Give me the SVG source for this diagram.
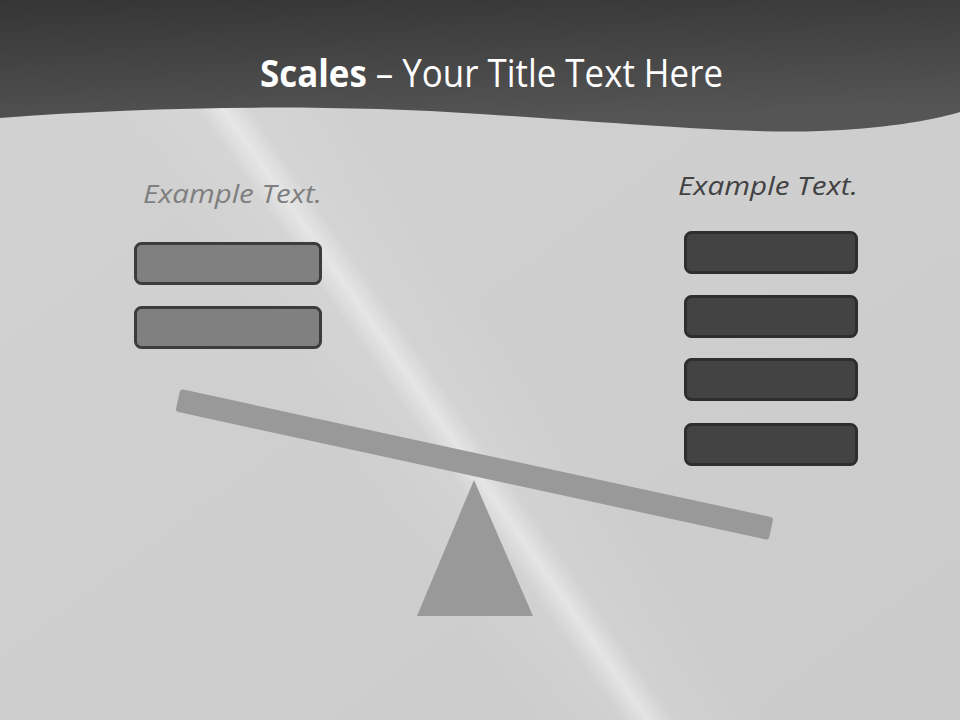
<svg xmlns="http://www.w3.org/2000/svg" width="960" height="720" viewBox="0 0 960 720">
  <defs>
    <linearGradient id="hdr" x1="0" y1="0" x2="0.25" y2="1">
      <stop offset="0" stop-color="#353535"/>
      <stop offset="1" stop-color="#555555"/>
    </linearGradient>
    <linearGradient id="bg" x1="0" y1="0" x2="1" y2="1">
      <stop offset="0" stop-color="#d2d2d2"/>
      <stop offset="1" stop-color="#cbcbcb"/>
    </linearGradient>
    <linearGradient id="streak" x1="0" y1="0" x2="1" y2="0">
      <stop offset="0" stop-color="#ffffff" stop-opacity="0"/>
      <stop offset="0.5" stop-color="#ffffff" stop-opacity="0.4"/>
      <stop offset="1" stop-color="#ffffff" stop-opacity="0"/>
    </linearGradient>
    <linearGradient id="glow" x1="0" y1="0" x2="1" y2="0">
      <stop offset="0" stop-color="#ffffff" stop-opacity="0"/>
      <stop offset="0.5" stop-color="#ffffff" stop-opacity="0.12"/>
      <stop offset="1" stop-color="#ffffff" stop-opacity="0"/>
    </linearGradient>
    <style>
      .lbox { fill: #808080; stroke: #3c3c3c; stroke-width: 3; }
      .rbox { fill: #434343; stroke: #2e2e2e; stroke-width: 3; }
      .ex { font-family: "Open Sans", "Noto Sans", sans-serif; font-style: italic; font-size: 26px; }
      .title { font-family: "Open Sans", "Noto Sans", sans-serif; font-size: 38px; fill: #ffffff; }
    </style>
  </defs>

  <!-- background -->
  <rect x="0" y="0" width="960" height="720" fill="url(#bg)"/>
  <g transform="translate(474,470) rotate(-34.8)">
    <rect x="-100" y="-520" width="200" height="1040" fill="url(#glow)"/>
    <rect x="-22" y="-520" width="44" height="1040" fill="url(#streak)"/>
  </g>

  <!-- header -->
  <path d="M0,0 H960 V112 C930,121 880,129 820,131 C740,134 620,123 480,114 C330,104 150,106 0,118 Z" fill="url(#hdr)"/>
  <text class="title" x="260" y="87" textLength="463" lengthAdjust="spacingAndGlyphs"><tspan font-weight="bold">Scales</tspan> – Your Title Text Here</text>

  <!-- left side -->
  <g id="left-label">
    <text class="ex" x="143" y="203" textLength="179" lengthAdjust="spacingAndGlyphs" fill="#7f7f7f">Example Text.</text>
  </g>
  <g id="left-box-1"><rect class="lbox" x="135.5" y="243.5" width="185" height="40" rx="6"/></g>
  <g id="left-box-2"><rect class="lbox" x="135.5" y="307.5" width="185" height="40" rx="6"/></g>

  <!-- right side -->
  <g id="right-label">
    <text class="ex" x="678" y="195" textLength="180" lengthAdjust="spacingAndGlyphs" fill="#424242">Example Text.</text>
  </g>
  <g id="right-box-1"><rect class="rbox" x="685.5" y="232.5" width="171" height="40" rx="6"/></g>
  <g id="right-box-2"><rect class="rbox" x="685.5" y="296.5" width="171" height="40" rx="6"/></g>
  <g id="right-box-3"><rect class="rbox" x="685.5" y="359.5" width="171" height="40" rx="6"/></g>
  <g id="right-box-4"><rect class="rbox" x="685.5" y="424.5" width="171" height="40" rx="6"/></g>

  <!-- seesaw -->
  <g id="fulcrum">
    <polygon points="474,480 417,616 533,616" fill="#999999"/>
  </g>
  <g id="beam">
    <rect x="-303.5" y="-11.5" width="607" height="23" rx="3" fill="#999999" transform="translate(474.5,464.5) rotate(12.23)"/>
  </g>
</svg>
